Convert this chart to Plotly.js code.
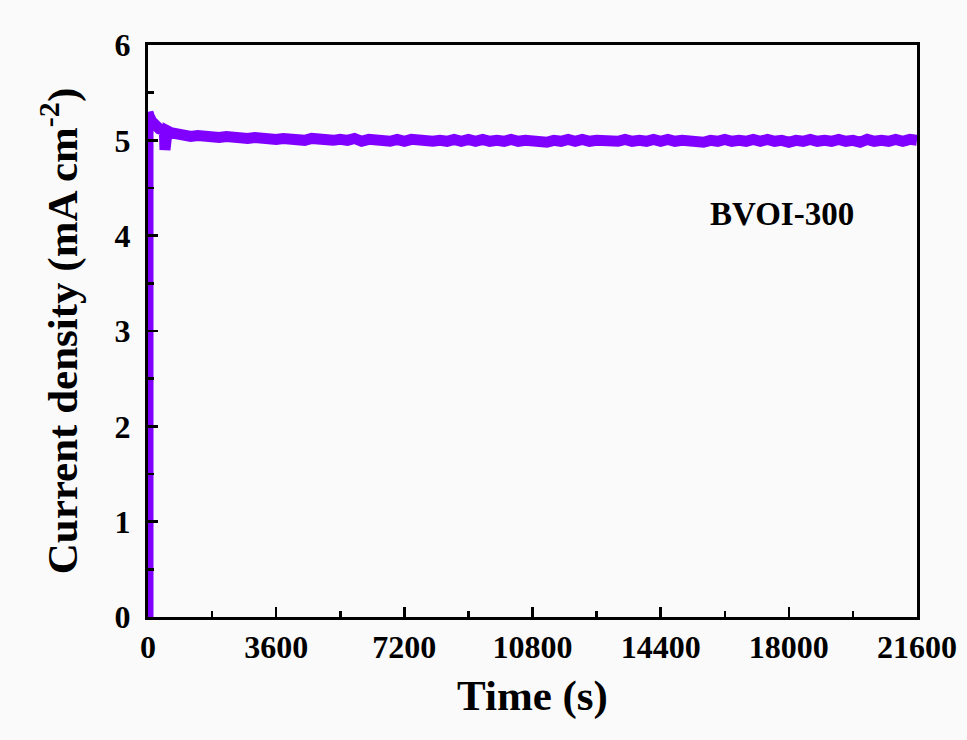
<!DOCTYPE html>
<html>
<head>
<meta charset="utf-8">
<script src="https://cdn.plot.ly/plotly-3.0.1.min.js"></script>
<style>html,body{margin:0;padding:0;background:#fafafa;}</style>
</head>
<body>
<div id="chart" style="width:967px;height:740px;"></div>
<script>
// Early transient (s, mA cm^-2)
const earlyTime = [0, 0, 40, 100, 160, 240, 320, 400, 460, 477, 495, 540, 640, 760, 880];
const earlyCurrent = [0, 5.29, 5.25, 5.20, 5.17, 5.14, 5.12, 5.11, 5.10, 4.90, 5.09, 5.10, 5.08, 5.07, 5.07];

// Steady region
const steadyTime = [1000,1200,1400,1600,1800,2000,2200,2400,2600,2800,3000,3200,3400,3600,3800,4000,4200,4400,4600,4800,5000,5200,5400,5600,5800,6000,6200,6400,6600,6800,7000,7200,7400,7600,7800,8000,8200,8400,8600,8800,9000,9200,9400,9600,9800,10000,10200,10400,10600,10800,11000,11200,11400,11600,11800,12000,12200,12400,12600,12800,13000,13200,13400,13600,13800,14000,14200,14400,14600,14800,15000,15200,15400,15600,15800,16000,16200,16400,16600,16800,17000,17200,17400,17600,17800,18000,18200,18400,18600,18800,19000,19200,19400,19600,19800,20000,20200,20400,20600,20800,21000,21200,21400,21600];
const steadyCurrent = [5.06,5.04,5.05,5.04,5.05,5.03,5.04,5.03,5.04,5.02,5.03,5.02,5.03,5.01,5.02,5.01,5.02,5.00,5.02,5.01,5.02,5.00,5.01,5.00,5.02,4.99,5.01,5.00,5.01,4.99,5.01,4.99,5.01,5.00,5.01,4.99,5.00,4.99,5.01,4.99,5.01,4.99,5.01,4.99,5.00,4.99,5.01,4.99,5.00,4.99,5.00,4.98,5.00,4.99,5.01,4.99,5.01,4.99,5.00,4.99,5.00,4.99,5.01,4.99,5.00,4.99,5.01,4.99,5.01,4.99,5.00,4.99,5.00,4.98,5.00,4.99,5.01,4.99,5.00,4.99,5.01,4.99,5.01,4.99,5.00,4.98,5.00,4.99,5.01,4.99,5.00,4.99,5.01,4.99,5.00,4.98,5.01,4.99,5.00,4.99,5.01,4.99,5.01,5.00];

const xTickVals = [0, 3600, 7200, 10800, 14400, 18000, 21600];
const xTickText = ['0', '3600', '7200', '10800', '14400', '18000', '21600'];
const yTickVals = [0, 1, 2, 3, 4, 5, 6];
const sampleLabel = 'BVOI-300';

const time = earlyTime.concat(steadyTime);
const current = earlyCurrent.concat(steadyCurrent);

const FONT = 'Liberation Serif, Times New Roman, serif';
const bg = '#fafafa';

const trace = {
  x: time, y: current, type: 'scatter', mode: 'lines',
  line: {color: '#8000ff', width: 11, shape: 'linear'},
  hoverinfo: 'skip', showlegend: false
};

const axisCommon = {
  showline: true, linecolor: '#000', linewidth: 3, mirror: true,
  ticks: 'inside', ticklen: 10, tickwidth: 2.5, tickcolor: '#000',
  showgrid: false, zeroline: false,
  tickfont: {family: FONT, size: 32, color: '#000', weight: 'bold'}
};

const layout = {
  width: 967, height: 740,
  paper_bgcolor: bg, plot_bgcolor: bg,
  margin: {l: 148, r: 50, t: 45, b: 123},
  xaxis: Object.assign({}, axisCommon, {
    range: [0, 21600], tickvals: xTickVals, ticktext: xTickText,
    minor: {dtick: 1800, ticks: 'inside', ticklen: 6, tickwidth: 2.5, tickcolor: '#000'},
    ticklabelstandoff: 0,
    title: {text: 'Time (s)', font: {family: FONT, size: 43, color: '#000', weight: 'bold'}, standoff: 16}
  }),
  yaxis: Object.assign({}, axisCommon, {
    range: [0, 6], tickvals: yTickVals,
    minor: {dtick: 0.5, ticks: 'inside', ticklen: 6, tickwidth: 2.5, tickcolor: '#000'},
    ticklabelstandoff: 8,
    title: {text: 'Current density (mA cm<sup>-2</sup>)', font: {family: FONT, size: 43, color: '#000', weight: 'bold'}, standoff: 24}
  }),
  annotations: [{
    x: 0.824, y: 0.705, xref: 'paper', yref: 'paper', showarrow: false,
    text: sampleLabel, xanchor: 'center', yanchor: 'middle',
    font: {family: FONT, size: 33, color: '#000', weight: 'bold'}
  }]
};

Plotly.newPlot('chart', [trace], layout, {displayModeBar: false, staticPlot: true});
</script>
</body>
</html>
